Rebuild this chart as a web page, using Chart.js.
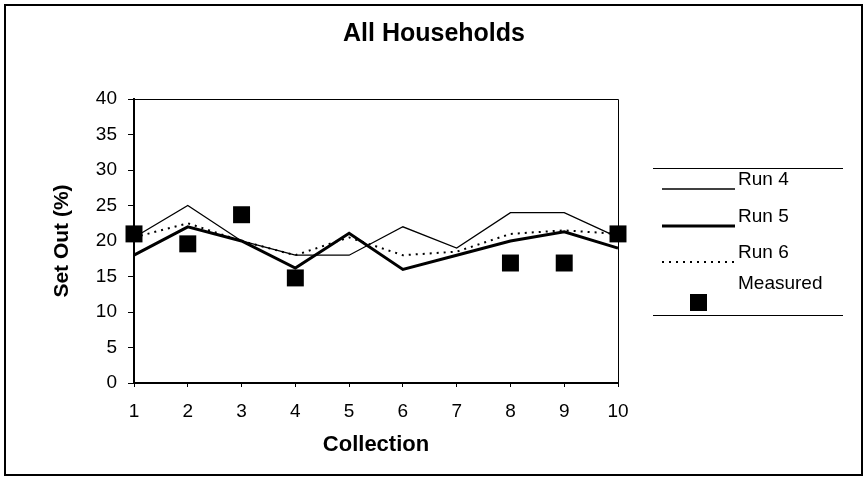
<!DOCTYPE html>
<html>
<head>
<meta charset="utf-8">
<script src="https://cdn.jsdelivr.net/npm/chart.js@4"></script>
<style>
  html, body { margin: 0; padding: 0; background: #fff; }
  #wrap { width: 868px; height: 478px; }
</style>
</head>
<body>
<div id="wrap"><canvas id="setOutChart" width="868" height="478"></canvas></div>
<script>
// valores
const collections = ['1', '2', '3', '4', '5', '6', '7', '8', '9', '10'];
const run4 = [20.5, 25, 20, 18, 18, 22, 19, 24, 24, 20.5];
const run5 = [18, 22, 20, 16.2, 21.1, 16, 18, 20, 21.3, 19];
const run6 = [20.5, 22.5, 20, 18, 20.5, 18, 18.5, 21, 21.5, 21];
const measured = [21, 19.6, 23.7, 14.8, null, null, null, 16.9, 16.9, 21];
const yTicks = [0, 5, 10, 15, 20, 25, 30, 35, 40];

const FONT = "'Liberation Sans', Arial, sans-serif";

// moldura externa, caixa da área do gráfico e legenda desenhada à mão
const framePlugin = {
    id: 'frameAndLegend',
    beforeDraw(chart) {
        const c = chart.ctx;
        c.save();
        c.fillStyle = '#fff';
        c.fillRect(0, 0, chart.width, chart.height);
        c.restore();
    },
    afterDraw(chart) {
        const c = chart.ctx;
        const a = chart.chartArea;
        c.save();
        c.strokeStyle = '#000';
        c.lineWidth = 2;
        c.strokeRect(5, 5, 857, 470);
        c.lineWidth = 1;
        c.beginPath();
        c.moveTo(a.left, a.top + 0.5);
        c.lineTo(a.right + 0.5, a.top + 0.5);
        c.lineTo(a.right + 0.5, a.bottom);
        c.stroke();

        // legenda
        c.lineWidth = 1.2;
        c.beginPath();
        c.moveTo(653, 168.5); c.lineTo(843, 168.5);
        c.moveTo(653, 315.5); c.lineTo(843, 315.5);
        c.stroke();

        const rows = [180, 217, 253, 284];
        c.font = '19px ' + FONT;
        c.textBaseline = 'middle';
        c.fillStyle = '#000';
        chart.data.datasets.forEach((ds, i) => {
            const y = rows[i];
            if (ds.showLine === false) {
                c.fillRect(690, 294, 17, 17);
            } else {
                c.save();
                c.lineWidth = ds.borderWidth;
                c.setLineDash(ds.borderDash || []);
                c.beginPath();
                c.moveTo(662, y + 9);
                c.lineTo(735, y + 9);
                c.stroke();
                c.restore();
            }
            c.fillText(ds.label, 738, y);
        });
        c.restore();
    }
};

const ctx = document.getElementById('setOutChart');

new Chart(ctx, {
    type: 'line',
    data: {
        labels: collections,
        datasets: [
            {
                label: 'Run 4',
                data: run4,
                borderColor: '#000',
                borderWidth: 1.3,
                pointRadius: 0,
                tension: 0
            },
            {
                label: 'Run 5',
                data: run5,
                borderColor: '#000',
                borderWidth: 3,
                pointRadius: 0,
                tension: 0
            },
            {
                label: 'Run 6',
                data: run6,
                borderColor: '#000',
                borderWidth: 2,
                borderDash: [2, 5],
                pointRadius: 0,
                tension: 0
            },
            {
                label: 'Measured',
                data: measured,
                showLine: false,
                pointStyle: 'rect',
                pointRadius: 12,
                pointBackgroundColor: '#000',
                pointBorderColor: '#000',
                pointBorderWidth: 0
            }
        ]
    },
    options: {
        responsive: false,
        animation: false,
        layout: {
            padding: { left: 0, right: 0, top: 0, bottom: 20 }
        },
        plugins: {
            legend: { display: false },
            tooltip: { enabled: false },
            title: {
                display: true,
                text: 'All Households',
                color: '#000',
                font: { family: FONT, size: 25, weight: 'bold' },
                padding: { top: 19, bottom: 50 }
            }
        },
        scales: {
            x: {
                offset: false,
                grid: { display: true, drawOnChartArea: false, color: '#000', tickLength: 4 },
                border: { display: true, color: '#000', width: 2 },
                ticks: { color: '#000', font: { family: FONT, size: 19 }, padding: 13, maxRotation: 0 },
                title: {
                    display: true,
                    text: 'Collection',
                    color: '#000',
                    font: { family: FONT, size: 22, weight: 'bold' },
                    padding: { top: 0, bottom: 0 }
                },
                afterFit(scale) { scale.height = 458 - 383; }
            },
            y: {
                min: 0,
                max: 40,
                afterBuildTicks(scale) { scale.ticks = yTicks.map(v => ({ value: v })); },
                grid: { display: true, drawOnChartArea: false, color: '#000', tickLength: 6 },
                border: { display: true, color: '#000', width: 2 },
                ticks: { color: '#000', font: { family: FONT, size: 19 }, padding: 11 },
                title: {
                    display: true,
                    text: 'Set Out (%)',
                    color: '#000',
                    font: { family: FONT, size: 21, weight: 'bold' },
                    padding: { top: 50, bottom: 0 }
                },
                afterFit(scale) { scale.width = 134; }
            },
            legendSpace: {
                type: 'linear',
                position: 'right',
                display: true,
                grid: { display: false },
                border: { display: false },
                ticks: { display: false },
                afterFit(scale) { scale.width = 250; }
            }
        }
    },
    plugins: [framePlugin]
});
</script>
</body>
</html>
